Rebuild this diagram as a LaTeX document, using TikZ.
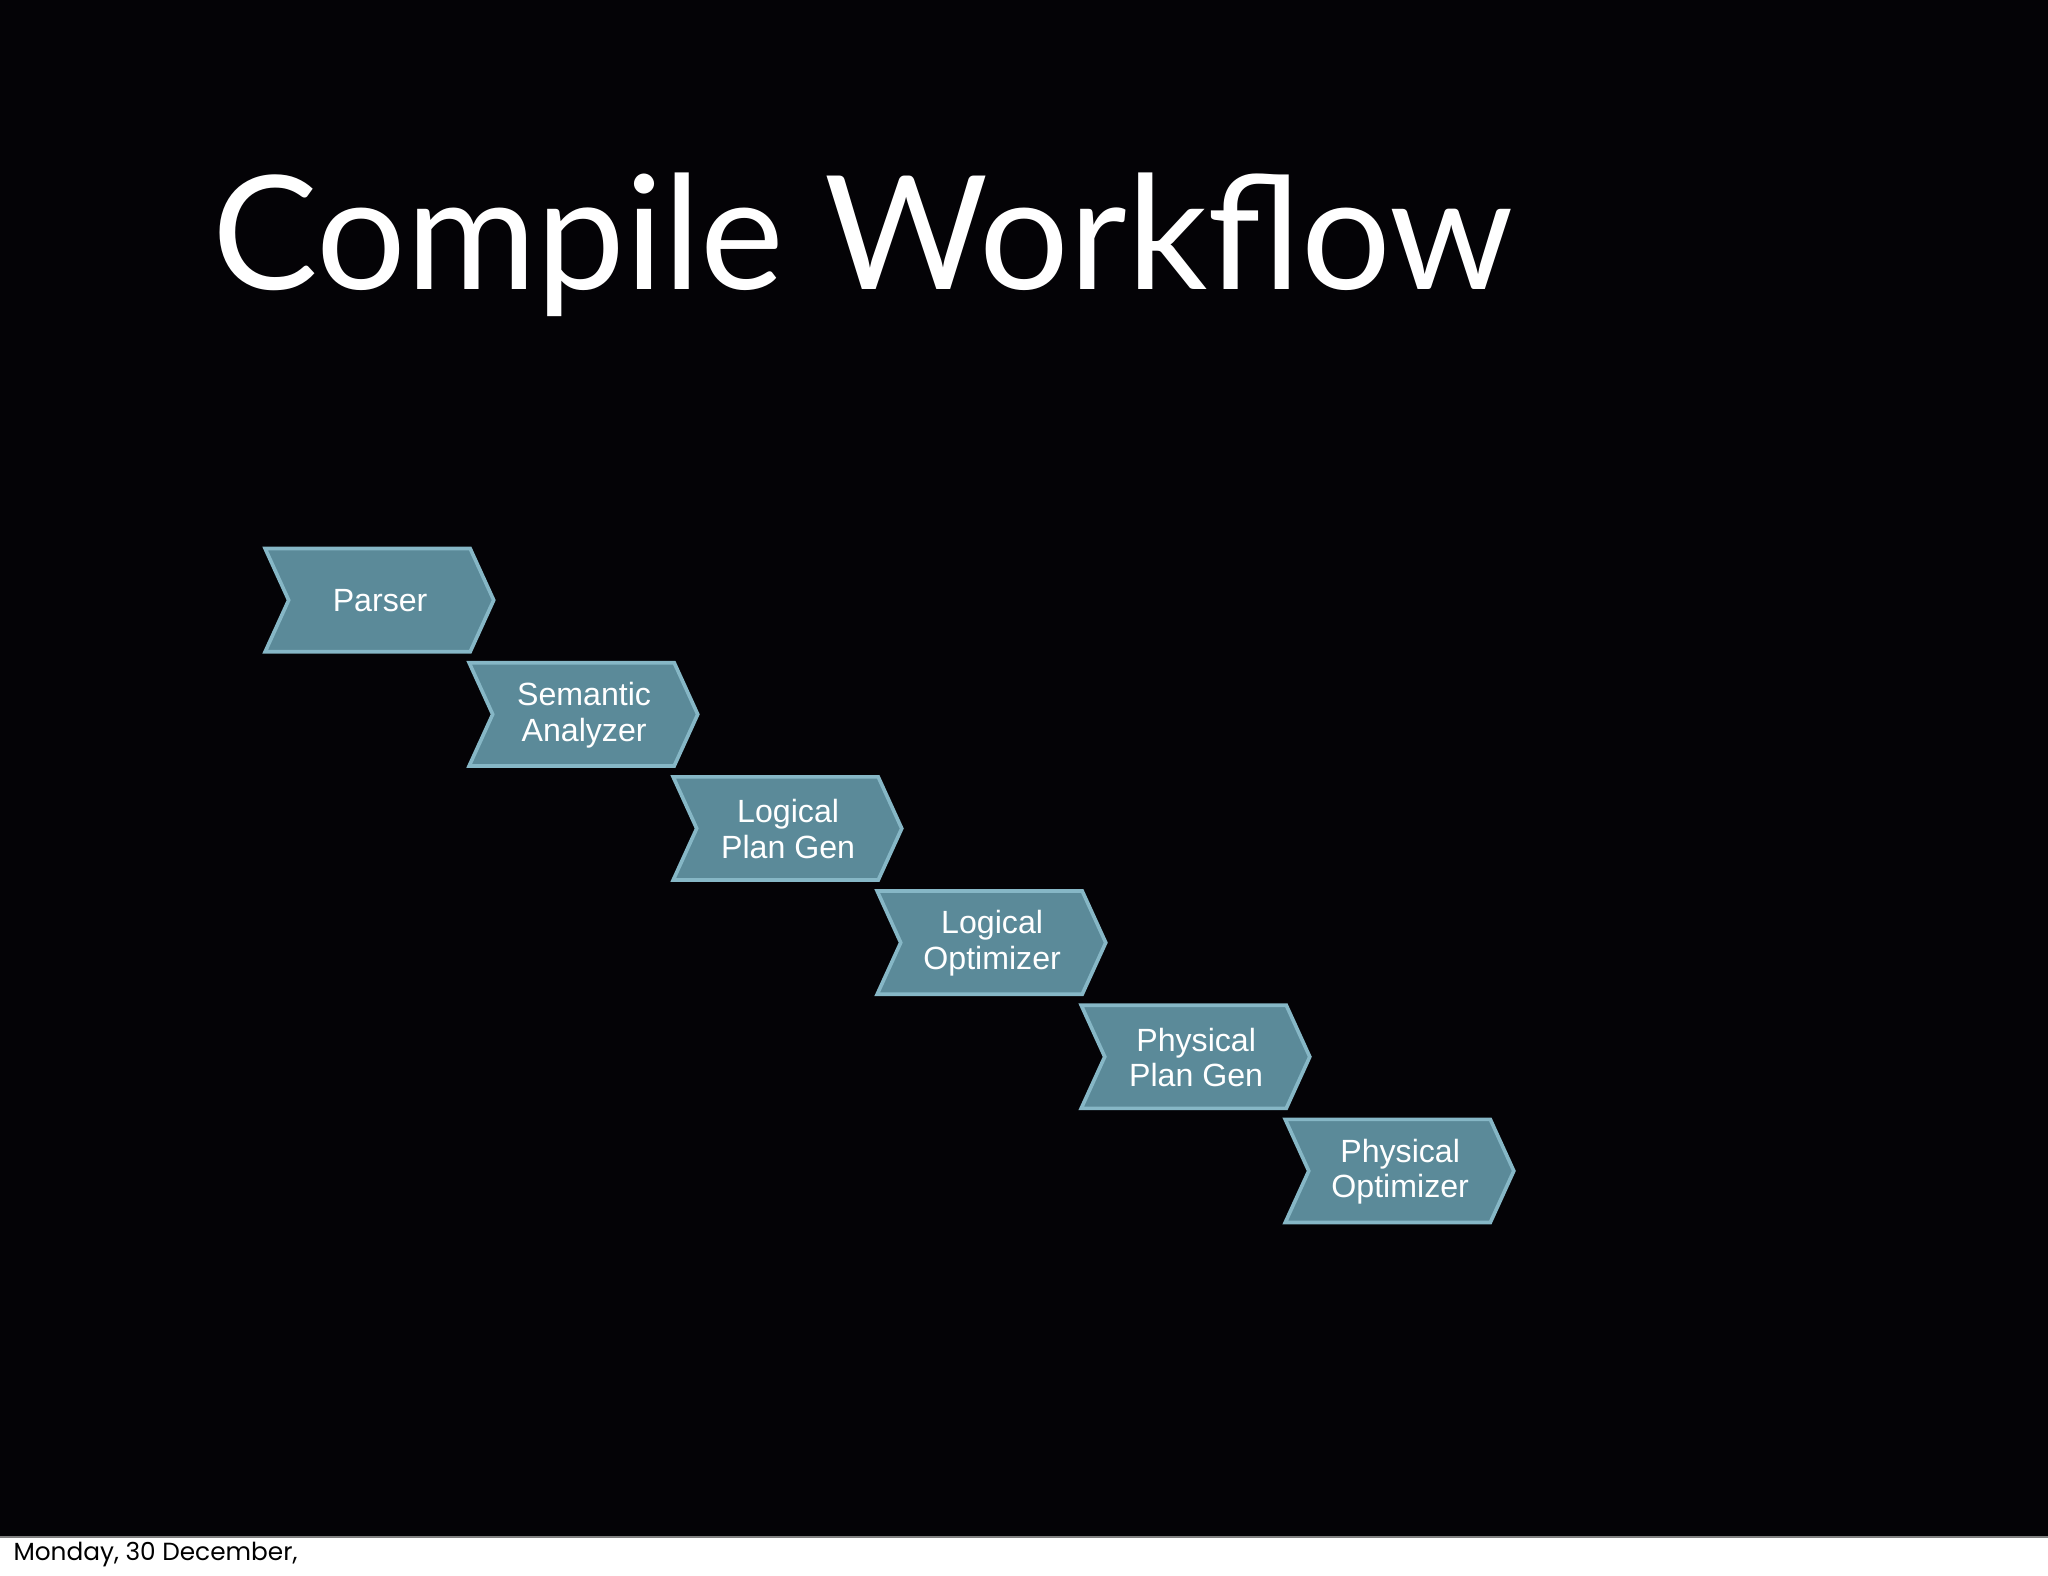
\documentclass[tikz,border=0pt]{standalone}
\usepackage{fontspec}
\setmainfont{Liberation Sans}
\newfontfamily\titlefont{Lato}
\newfontfamily\footfont{Poppins}
\begin{document}
\begin{tikzpicture}[x=0.02cm,y=-0.02cm,
  chev/.style={fill=chevfill,draw=chevedge,line width=1.6pt,line join=miter},
  lbl/.style={text=white,align=center,font=\fontsize{14}{15.5}\selectfont}]
\definecolor{chevfill}{HTML}{5B8A99}
\definecolor{chevedge}{HTML}{86B7C6}
\definecolor{bg}{HTML}{040306}
\clip (0,0) rectangle (1568,1206);
\fill[bg] (0,0) rectangle (1568,1177);
\fill[white] (0,1177) rectangle (1568,1206);
\draw[gray,line width=0.8pt] (0,1177) -- (1568,1177);
\node[anchor=base west,text=white,inner sep=0,font=\titlefont\fontsize{69}{73}\selectfont] (title) at (162,222) {Compile Workflow};
\foreach \i/\t in {0/Parser,1/{Semantic\\Analyzer},2/{Logical\\Plan Gen},3/{Logical\\Optimizer},4/{Physical\\Plan Gen},5/{Physical\\Optimizer}}{
  \pgfmathsetmacro{\xx}{203+156.2*\i}
  \pgfmathsetmacro{\yy}{420+87.4*\i}
  \draw[chev] (\xx,\yy) -- ++(157,0) -- ++(18,39.5) -- ++(-18,39.5) -- ++(-157,0) -- ++(18,-39.5) -- cycle;
  \node[lbl] (c\i) at (\xx+88,\yy+40) {\t};
}
\node[anchor=north west,inner sep=0,font=\footfont\fontsize{10.8}{17}\selectfont,align=left] (foot) at (10,1180) {Monday, 30 December,\\13};
\end{tikzpicture}
\end{document}
